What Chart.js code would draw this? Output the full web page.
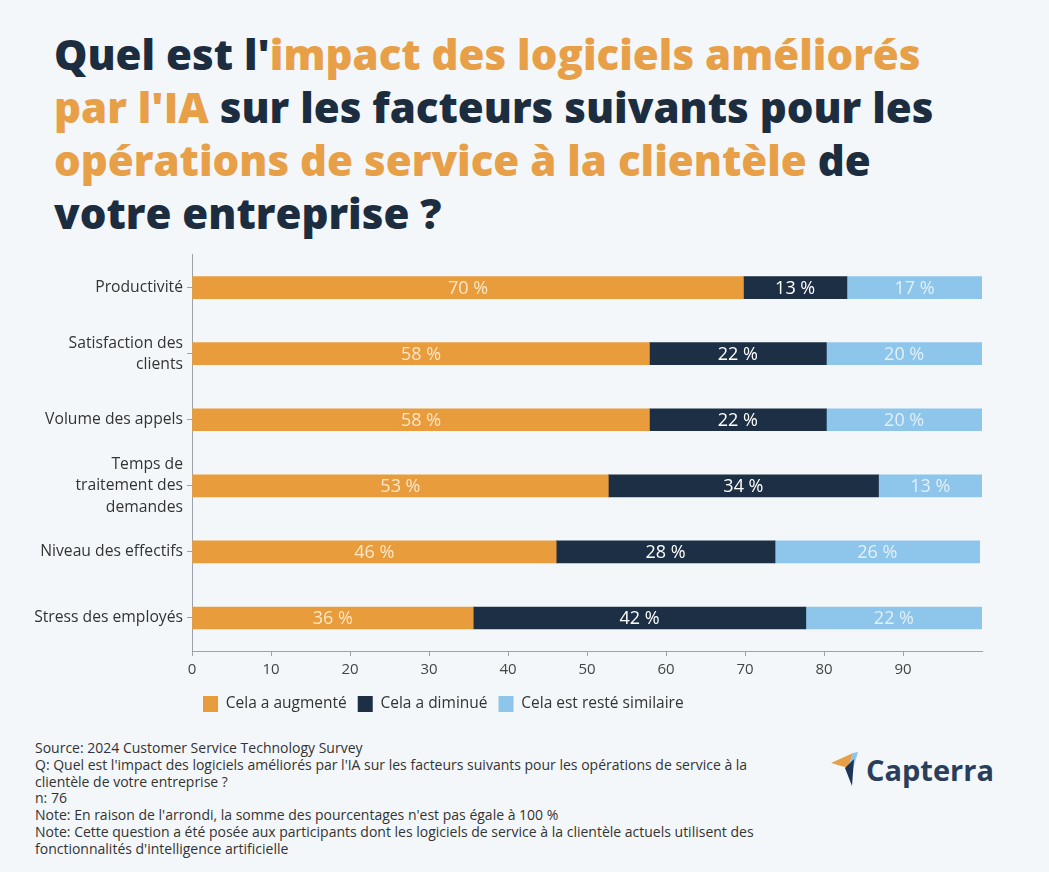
<!DOCTYPE html>
<html lang="fr">
<head>
<meta charset="utf-8">
<script src="https://cdn.jsdelivr.net/npm/chart.js@4.4.1/dist/chart.umd.min.js"></script>
<style>
  body { margin: 0; background: #f3f7f9; font-family: "Open Sans", sans-serif; }
  .page { position: relative; width: 1049px; height: 872px; overflow: hidden; background: #f3f7f9; }
  h1 {
    position: absolute; left: 54px; top: 27px; margin: 0;
    font-size: 42px; line-height: 53px; font-weight: 800; color: #1d2d40;
    width: 990px; white-space: nowrap;
  }
  h1 .o { color: #e8a048; }
  #chartBox { position: absolute; left: 0; top: 240px; }
  .foot {
    position: absolute; left: 35px; top: 740px; font-size: 14px; line-height: 16.8px; color: #333;
    white-space: nowrap;
  }
  .logo { position: absolute; left: 828px; top: 748px; }
</style>
</head>
<body>
<div class="page">
  <h1>Quel est l'<span class="o">impact des logiciels améliorés<br>par l'IA</span> sur les facteurs suivants pour les<br><span class="o">opérations de service à la clientèle</span> de<br>votre entreprise ?</h1>

  <div id="chartBox"><canvas id="chart" width="1049" height="482"></canvas></div>

  <div class="foot">
    Source: 2024 Customer Service Technology Survey<br>
    Q: Quel est l'impact des logiciels améliorés par l'IA sur les facteurs suivants pour les opérations de service à la<br>
    clientèle de votre entreprise ?<br>
    n: 76<br>
    Note: En raison de l'arrondi, la somme des pourcentages n'est pas égale à 100 %<br>
    Note: Cette question a été posée aux participants dont les logiciels de service à la clientèle actuels utilisent des<br>
    fonctionnalités d'intelligence artificielle
  </div>

  <svg class="logo" width="180" height="44" viewBox="0 0 180 44">
    <polygon points="3,15 25,5 20,20" fill="#e8a048"/>
    <polygon points="25,5 30,4 24,24 20,20" fill="#8ec5ea"/>
    <polygon points="17,20 26,11 24,38" fill="#1d3557"/>
    <text x="38" y="33" font-family="Open Sans" font-weight="700" font-size="29" fill="#2a3e5c">Capterra</text>
  </svg>
</div>

<script>
// catégories et valeurs (en %)
const categories = [
  'Productivité',
  ['Satisfaction des', 'clients'],
  'Volume des appels',
  ['Temps de', 'traitement des', 'demandes'],
  'Niveau des effectifs',
  'Stress des employés'
]
const augmente = [69.8, 57.9, 57.9, 52.7, 46.1, 35.6]
const diminue = [13.1, 22.4, 22.4, 34.2, 27.7, 42.1]
const similaire = [17.1, 19.7, 19.7, 13.1, 25.9, 22.3]
const xTicks = [0, 10, 20, 30, 40, 50, 60, 70, 80, 90]

const seriesNames = ['Cela a augmenté', 'Cela a diminué', 'Cela est resté similaire']
const colors = ['#e99c3c', '#1c2f45', '#8ec5ea']
const labelColors = ['rgba(255,244,225,0.85)', '#ffffff', 'rgba(240,248,253,0.85)']

// écrire les pourcentages au milieu de chaque segment
const segmentLabels = {
  id: 'segmentLabels',
  afterDatasetsDraw(chart) {
    const ctx = chart.ctx
    ctx.save()
    ctx.font = '18px "Open Sans"'
    ctx.textAlign = 'center'
    ctx.textBaseline = 'middle'
    chart.data.datasets.forEach((ds, i) => {
      chart.getDatasetMeta(i).data.forEach((bar, j) => {
        ctx.fillStyle = labelColors[i]
        ctx.fillText(Math.round(ds.data[j]) + ' %', (bar.x + bar.base) / 2, bar.y + 1)
      })
    })
    ctx.restore()
  }
}

new Chart(document.getElementById('chart'), {
  type: 'bar',
  data: {
    labels: categories,
    datasets: [augmente, diminue, similaire].map((d, i) => ({
      label: seriesNames[i],
      data: d,
      backgroundColor: colors[i],
      borderWidth: 0,
      barThickness: 22
    }))
  },
  options: {
    indexAxis: 'y',
    responsive: false,
    animation: false,
    layout: { padding: { top: 11, right: 67, left: 0, bottom: 0 } },
    scales: {
      x: {
        stacked: true,
        min: 0,
        max: 100,
        afterBuildTicks: scale => { scale.ticks = xTicks.map(v => ({ value: v })) },
        afterFit: scale => { scale.height = 34 },
        grid: { drawOnChartArea: false, tickLength: 5, color: '#9aa3ab' },
        border: { color: '#9aa3ab' },
        ticks: { color: '#444', font: { family: 'Open Sans', size: 15 }, padding: 5 }
      },
      y: {
        stacked: true,
        afterFit: scale => { scale.width = 192 },
        grid: { drawOnChartArea: false, offset: false, tickLength: 5, color: '#9aa3ab' },
        border: { color: '#9aa3ab' },
        ticks: {
          autoSkip: false,
          color: '#333',
          font: { family: 'Open Sans', size: 15.7, lineHeight: 1.35 },
          padding: 4
        }
      }
    },
    plugins: {
      tooltip: { enabled: false },
      legend: {
        position: 'bottom',
        align: 'start',
        fullSize: false,
        labels: {
          boxWidth: 15,
          boxHeight: 16,
          padding: 11,
          color: '#333',
          font: { family: 'Open Sans', size: 15.5 }
        }
      }
    }
  },
  plugins: [segmentLabels]
})
</script>
</body>
</html>
